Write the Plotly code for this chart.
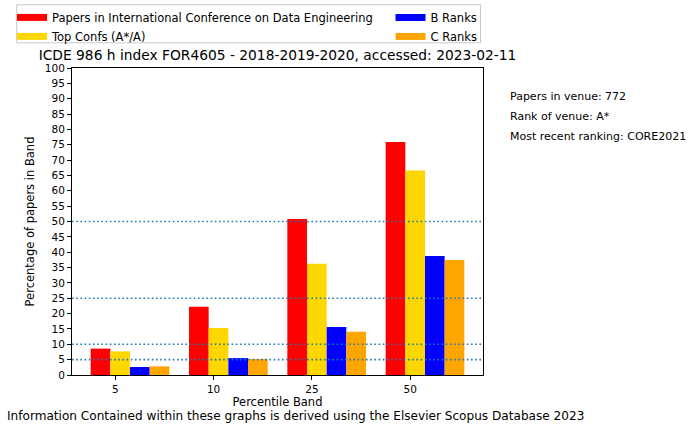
import plotly.graph_objects as go
import numpy as np

bands = ["5", "10", "25", "50"]
series_names = ["Papers in International Conference on Data Engineering",
                "Top Confs (A*/A)", "B Ranks", "C Ranks"]
venue = [8.6, 22.2, 50.8, 75.9]
top_confs = [7.7, 15.3, 36.2, 66.6]
b_ranks = [2.6, 5.5, 15.6, 38.8]
c_ranks = [2.8, 5.2, 14.1, 37.5]
ref_levels = [5, 10, 25, 50]
info_lines = ["Papers in venue: 772", "Rank of venue: A*", "Most recent ranking: CORE2021"]
title_text = "ICDE 986 h index FOR4605 - 2018-2019-2020, accessed: 2023-02-11"
footer_text = "Information Contained within these graphs is derived using the Elsevier Scopus Database 2023"

colors = ["#ff0000", "#ffd700", "#0000ff", "#ffa500"]
offsets = [-0.15, 0.05, 0.25, 0.45]
legends = ["legend", "legend", "legend2", "legend2"]
FONT = "DejaVu Sans"

pos = np.arange(len(bands))
fig = go.Figure()
for vals, name, col, off in zip([venue, top_confs, b_ranks, c_ranks], series_names, colors, offsets):
    fig.add_trace(go.Bar(x=pos + off, y=vals, width=0.2, marker=dict(color=col, line=dict(width=0)),
                         name=name, showlegend=False))
for name, col, lg in zip(series_names, colors, legends):
    fig.add_trace(go.Scatter(x=[None], y=[None], mode="lines", line=dict(color=col, width=7),
                             name=name, legend=lg))

for lv in ref_levels:
    fig.add_shape(type="line", xref="paper", x0=0, x1=1, yref="y", y0=lv, y1=lv,
                  line=dict(color="#1f77b4", width=1.6, dash="1.6px,2.6px"), layer="above")

# legend frame
fig.add_shape(type="rect", xref="paper", yref="paper", x0=-0.1345, x1=0.994, y0=1.082, y1=1.206,
              line=dict(color="#c8c8c8", width=1), fillcolor="rgba(0,0,0,0)", layer="above")

fig.update_layout(
    width=695, height=426,
    margin=dict(l=72, r=212, t=68, b=51, autoexpand=False),
    paper_bgcolor="white", plot_bgcolor="white",
    font=dict(family=FONT, size=11.5, color="black"),
    barmode="overlay",
    title=dict(text=title_text, x=0.5, xref="paper", xanchor="center", y=1, yref="paper",
               yanchor="bottom", pad=dict(b=8), font=dict(size=13.8, family=FONT, color="black")),
    legend=dict(x=-0.146, y=1.212, xanchor="left", yanchor="top", orientation="v",
                bgcolor="rgba(0,0,0,0)", borderwidth=0, font=dict(size=11.5), tracegroupgap=0),
    legend2=dict(x=0.775, y=1.212, xanchor="left", yanchor="top", orientation="v",
                 bgcolor="rgba(0,0,0,0)", borderwidth=0, font=dict(size=11.5), tracegroupgap=0),
    showlegend=True,
)
fig.update_xaxes(range=[-0.44, 3.74], tickmode="array", tickvals=pos, ticktext=bands,
                 showline=True, linecolor="black", linewidth=1, mirror=True,
                 ticks="outside", ticklen=4, tickcolor="black", showgrid=False, zeroline=False,
                 tickfont=dict(size=10.5),
                 title=dict(text="Percentile Band", standoff=3, font=dict(size=11.5)))
fig.update_yaxes(range=[0, 100], tickmode="linear", tick0=0, dtick=5,
                 showline=True, linecolor="black", linewidth=1, mirror=True,
                 ticks="outside", ticklen=4, tickcolor="black", showgrid=False, zeroline=False,
                 tickfont=dict(size=10.5),
                 title=dict(text="Percentage of papers in Band", standoff=7, font=dict(size=11.5)))

for i, line in enumerate(info_lines):
    fig.add_annotation(text=line, xref="paper", yref="paper", x=1.06, y=0.906 - i * 0.065,
                       xanchor="left", yanchor="middle", showarrow=False, font=dict(size=11))
fig.add_annotation(text=footer_text, xref="paper", yref="paper", x=-0.164, y=-0.133,
                   xanchor="left", yanchor="middle", showarrow=False, font=dict(size=12.1))

fig.write_html("out.html", config={"displayModeBar": False},
               post_script="document.body.style.margin='0px';")
